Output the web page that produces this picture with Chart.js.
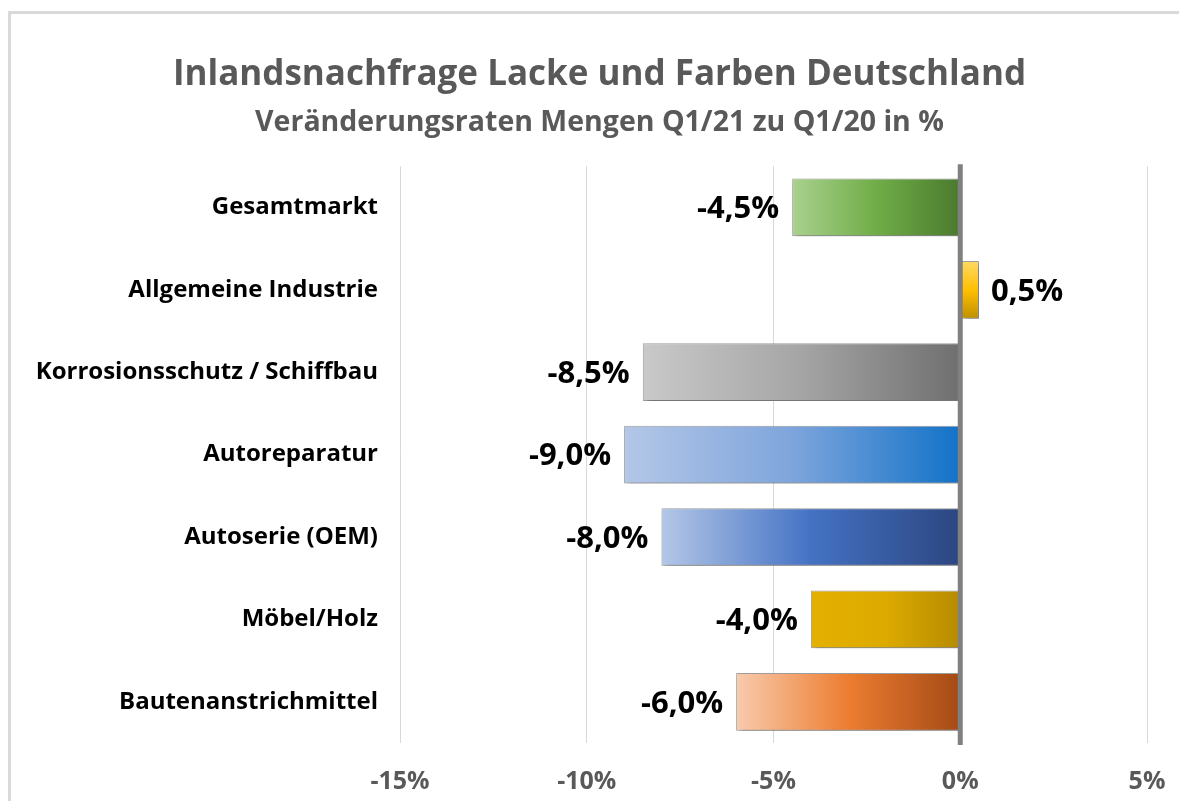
<!DOCTYPE html>
<html>
<head>
<meta charset="utf-8">
<script src="https://cdn.jsdelivr.net/npm/chart.js@4.4.1/dist/chart.umd.min.js"></script>
<style>
  html, body { margin: 0; padding: 0; background: #fff; overflow: hidden; }
  #frame {
    position: absolute; left: 8px; top: 11px; width: 1200px; height: 820px;
    border: 3px solid #d9d9d9; box-sizing: border-box;
  }
  #wrap { position: absolute; left: 0; top: 0; width: 1179px; height: 801px; }
</style>
</head>
<body>
<div id="frame"></div>
<div id="wrap"><canvas id="chart"></canvas></div>
<script>
// Daten
const kategorien = [
    'Gesamtmarkt',
    'Allgemeine Industrie',
    'Korrosionsschutz / Schiffbau',
    'Autoreparatur',
    'Autoserie (OEM)',
    'Möbel/Holz',
    'Bautenanstrichmittel'
];
const veraenderung = [-4.5, 0.5, -8.5, -9.0, -8.0, -4.0, -6.0];
const xTicks = [-15, -10, -5, 0, 5];

// Farbverläufe (hell -> mittel -> dunkel)
const verlaeufe = [
    ['#a9d18e', '#70ad47', '#4b7a2e'],
    ['#ffd966', '#ffc000', '#bf9000'],
    ['#c9c9c9', '#a5a5a5', '#6f6f6f'],
    ['#b4c7e7', '#7ea5dc', '#1272c8'],
    ['#b4c7e7', '#4472c4', '#2c4680'],
    ['#e4b000', '#dcaa00', '#b68b00'],
    ['#f8cbad', '#ed7d31', '#a44a16']
];

const schrift = '"Open Sans", Lato, sans-serif';

function barVerlauf(context) {
    const chart = context.chart;
    const farben = verlaeufe[context.dataIndex];
    if (!chart.chartArea) return farben[1];
    const v = context.raw;
    const xs = chart.scales.x;
    const g = chart.ctx;
    let grad;
    if (v >= 0) {
        // kleiner positiver Balken: Verlauf von oben nach unten
        const ys = chart.scales.y;
        const yc = ys.getPixelForValue(context.dataIndex);
        const half = (ys.height / kategorien.length) * 0.7 / 2;
        grad = g.createLinearGradient(0, yc - half, 0, yc + half);
    } else {
        grad = g.createLinearGradient(xs.getPixelForValue(v), 0, xs.getPixelForValue(0), 0);
    }
    grad.addColorStop(0, farben[0]);
    grad.addColorStop(0.5, farben[1]);
    grad.addColorStop(1, farben[2]);
    return grad;
}

// Titel etwas nach rechts, damit er mittig im Rahmen sitzt
const titelPlugin = {
    id: 'titelVersatz',
    afterLayout(chart) {
        chart.boxes.forEach(box => {
            if (box.options && box.options.text !== undefined && box.position === 'top') {
                box.left += 16;
                box.right += 16;
            }
        });
    }
};

// Schatten unter den Balken
const schattenPlugin = {
    id: 'schatten',
    beforeDatasetsDraw(chart) {
        const ctx = chart.ctx;
        ctx.save();
        ctx.shadowColor = 'rgba(0,0,0,0.35)';
        ctx.shadowBlur = 5;
        ctx.shadowOffsetX = 3;
        ctx.shadowOffsetY = 3;
    },
    afterDatasetsDraw(chart) {
        chart.ctx.restore();
    }
};

// Nulllinie und Werte-Beschriftung
const beschriftungPlugin = {
    id: 'beschriftung',
    afterDatasetsDraw(chart) {
        const ctx = chart.ctx;
        const xs = chart.scales.x;
        const area = chart.chartArea;
        const x0 = xs.getPixelForValue(0);
        ctx.save();
        ctx.strokeStyle = '#808080';
        ctx.lineWidth = 5;
        ctx.beginPath();
        ctx.moveTo(x0, area.top - 2);
        ctx.lineTo(x0, area.bottom + 2);
        ctx.stroke();

        ctx.font = 'bold 31px ' + schrift;
        ctx.fillStyle = '#000';
        ctx.textBaseline = 'middle';
        chart.getDatasetMeta(0).data.forEach((bar, i) => {
            const v = veraenderung[i];
            const txt = v.toFixed(1).replace('.', ',') + '%';
            if (v < 0) {
                ctx.textAlign = 'right';
                ctx.fillText(txt, bar.x - 13, bar.y + 2);
            } else {
                ctx.textAlign = 'left';
                ctx.fillText(txt, bar.x + 12, bar.y + 2);
            }
        });
        ctx.restore();
    }
};

const ctx = document.getElementById('chart').getContext('2d');
new Chart(ctx, {
    type: 'bar',
    data: {
        labels: kategorien,
        datasets: [{
            data: veraenderung,
            backgroundColor: barVerlauf,
            borderColor: '#a0a0a0',
            borderWidth: 1,
            borderSkipped: false,
            barPercentage: 0.7,
            categoryPercentage: 1.0
        }]
    },
    options: {
        indexAxis: 'y',
        responsive: true,
        maintainAspectRatio: false,
        animation: false,
        layout: { padding: { left: 20, right: 32, top: 0, bottom: 0 } },
        plugins: {
            legend: { display: false },
            tooltip: { enabled: false },
            title: {
                display: true,
                text: 'Inlandsnachfrage Lacke und Farben Deutschland',
                color: '#595959',
                font: { family: schrift, size: 35, weight: 'bold' },
                padding: { top: 54, bottom: 10 }
            },
            subtitle: {
                display: true,
                text: 'Veränderungsraten Mengen Q1/21 zu Q1/20 in %',
                color: '#595959',
                font: { family: schrift, size: 28.5, weight: 'bold' },
                padding: { top: 0, bottom: 26 }
            }
        },
        scales: {
            x: {
                min: xTicks[0],
                max: xTicks[xTicks.length - 1],
                afterBuildTicks: (axis) => { axis.ticks = xTicks.map(v => ({ value: v })); },
                afterFit: (axis) => { axis.height = 58; },
                border: { display: false },
                grid: { color: '#d9d9d9', lineWidth: 1, drawTicks: true, tickLength: 20, tickColor: 'rgba(0,0,0,0)' },
                ticks: {
                    color: '#595959',
                    padding: 4,
                    font: { family: schrift, size: 25, weight: 'bold' },
                    callback: (v) => v + '%'
                }
            },
            y: {
                afterFit: (axis) => { axis.width = 380; },
                border: { display: false },
                grid: { display: false, drawTicks: false },
                ticks: {
                    color: '#000',
                    padding: 22,
                    font: { family: schrift, size: 24, weight: 'bold' }
                }
            }
        }
    },
    plugins: [titelPlugin, schattenPlugin, beschriftungPlugin]
});
</script>
</body>
</html>
